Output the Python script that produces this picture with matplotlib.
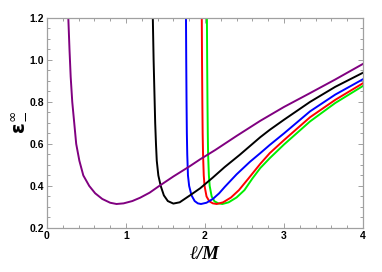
import numpy as np
import matplotlib
matplotlib.use("Agg")
import matplotlib.pyplot as plt
from matplotlib.ticker import MultipleLocator, FormatStrFormatter

# -----------------------------
# Curves (l/M, eps)
# -----------------------------
l_purple = [0.27, 0.285, 0.30, 0.32, 0.345, 0.37, 0.41, 0.46, 0.535, 0.61, 0.70, 0.80,
            0.88, 0.97, 1.08, 1.18, 1.30, 1.41, 1.60, 1.80, 1.94, 2.13, 2.40, 2.70,
            3.00, 3.33, 3.65, 4.00]
e_purple = [1.20, 1.05, 0.92, 0.80, 0.70, 0.60, 0.52, 0.45, 0.40, 0.365, 0.338, 0.320,
            0.314, 0.317, 0.328, 0.344, 0.368, 0.397, 0.445, 0.492, 0.527, 0.571, 0.638, 0.710,
            0.776, 0.842, 0.907, 0.981]

l_black = [1.34, 1.35, 1.36, 1.37, 1.38, 1.39, 1.41, 1.44, 1.48, 1.53, 1.60, 1.68,
           1.81, 1.94, 2.10, 2.25, 2.44, 2.57, 2.70, 2.82, 3.00, 3.33, 3.65, 4.00]
e_black = [1.20, 1.00, 0.85, 0.70, 0.60, 0.52, 0.45, 0.40, 0.355, 0.328, 0.316, 0.322,
           0.355, 0.389, 0.44, 0.49, 0.548, 0.59, 0.632, 0.667, 0.715, 0.80, 0.872, 0.939]

l_blue = [1.76, 1.763, 1.767, 1.771, 1.776, 1.785, 1.80, 1.83, 1.87, 1.91, 1.95, 2.02,
          2.10, 2.18, 2.25, 2.40, 2.57, 2.70, 2.82, 3.00, 3.33, 3.65, 4.00]
e_blue = [1.20, 1.00, 0.80, 0.65, 0.55, 0.45, 0.40, 0.355, 0.328, 0.317, 0.314, 0.320,
          0.338, 0.365, 0.395, 0.455, 0.515, 0.556, 0.595, 0.65, 0.755, 0.835, 0.908]

l_red = [1.96, 1.963, 1.967, 1.971, 1.976, 1.985, 1.995, 2.02, 2.055, 2.10, 2.15, 2.23,
         2.33, 2.43, 2.55, 2.70, 2.82, 3.00, 3.33, 3.65, 4.00]
e_red = [1.20, 1.00, 0.80, 0.65, 0.55, 0.45, 0.40, 0.35, 0.327, 0.317, 0.314, 0.322,
         0.345, 0.38, 0.435, 0.505, 0.556, 0.618, 0.727, 0.81, 0.889]

l_green = [2.025, 2.028, 2.032, 2.036, 2.04, 2.05, 2.06, 2.085, 2.12, 2.17, 2.22, 2.30,
           2.40, 2.50, 2.60, 2.70, 2.82, 3.00, 3.33, 3.65, 4.00]
e_green = [1.20, 1.00, 0.80, 0.65, 0.55, 0.45, 0.40, 0.35, 0.327, 0.317, 0.314, 0.322,
           0.345, 0.38, 0.435, 0.485, 0.532, 0.597, 0.707, 0.795, 0.876]

xticks = [0, 1, 2, 3, 4]
yticks = [0.2, 0.4, 0.6, 0.8, 1.0, 1.2]

# -----------------------------
# Figure
# -----------------------------
fig = plt.figure(figsize=(3.82, 2.72), dpi=100)
ax = fig.add_axes([0.123, 0.162, 0.827, 0.772])

lw = 1.4
ax.plot(l_green, e_green, color="#00ee00", lw=lw)
ax.plot(l_red, e_red, color="#ff0000", lw=lw)
ax.plot(l_blue, e_blue, color="#0000ff", lw=lw)
ax.plot(l_black, e_black, color="black", lw=lw)
ax.plot(l_purple, e_purple, color="#800080", lw=lw)

ax.set_xlim(0, 4)
ax.set_ylim(0.2, 1.2)
ax.set_xticks(xticks)
ax.set_yticks(yticks)
ax.xaxis.set_minor_locator(MultipleLocator(0.2))
ax.yaxis.set_minor_locator(MultipleLocator(0.05))
ax.yaxis.set_major_formatter(FormatStrFormatter("%.1f"))

frame_col = "#a0a0a0"
for s in ax.spines.values():
    s.set_color(frame_col)
    s.set_linewidth(0.9)
ax.tick_params(which="both", direction="in", top=True, right=True,
               color=frame_col, width=0.7)
ax.tick_params(which="major", length=3.5, labelsize=7.5, pad=2)
ax.tick_params(which="minor", length=2)
for lab in ax.get_xticklabels() + ax.get_yticklabels():
    lab.set_fontfamily(["Liberation Sans", "DejaVu Sans"])
    lab.set_fontweight("bold")

ax.set_xlabel("ℓ/M", fontsize=13.5, fontfamily=["Liberation Serif", "DejaVu Serif"],
              fontstyle="italic", fontweight="bold", labelpad=4)
plt.rcParams["mathtext.fontset"] = "dejavusans"
ax.set_ylabel(r"$\mathbf{\epsilon}_{-}^{\infty}$", fontsize=14, labelpad=2)

fig.savefig("out.png", dpi=100)
